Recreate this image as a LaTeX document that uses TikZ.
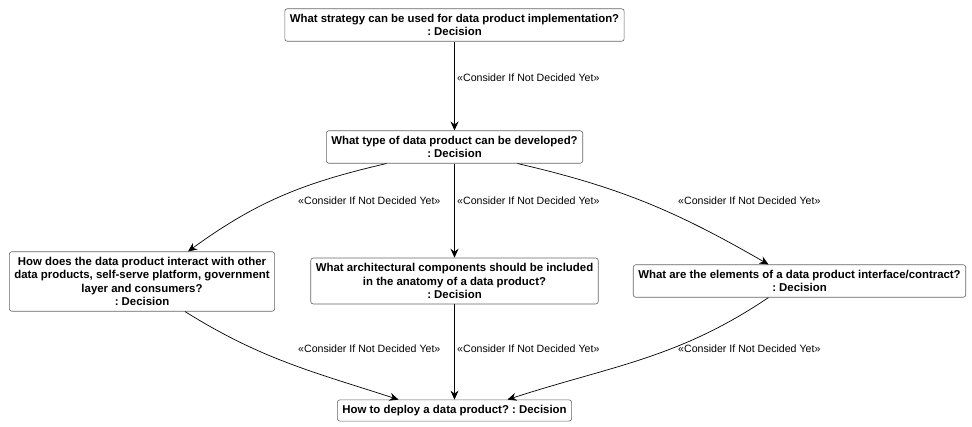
\documentclass[tikz,border=0pt]{standalone}
\usepackage{fontspec}
\setmainfont{Liberation Sans}
\usetikzlibrary{arrows.meta}
\frenchspacing
\begin{document}
\begin{tikzpicture}[x=1pt,y=-1pt,line join=round,>={Stealth[length=9pt,width=8pt,inset=3pt]},
    decision/.style={draw=black!60,rounded corners=2.5pt,fill=white,align=center,line width=0.6pt,
        inner xsep=5pt,inner ysep=5.3pt,font=\bfseries\fontsize{11.4}{13.5}\selectfont},
    stereo/.style={anchor=west,inner sep=0pt,font=\fontsize{10.6}{12}\selectfont},
    flow/.style={->,line width=0.7pt}]
    \def\mylblx{457}\def\mylblxl{298}\def\mylblxr{678}
    \useasboundingbox (0,0) rectangle (972,426);
    % decisions
    \node[decision] (nstrategy) at (454.5,25) {What strategy can be used for data product implementation?\\: Decision};
    \node[decision] (ntype) at (454.5,147) {What type of data product can be developed?\\: Decision};
    \node[decision] (ninteract) at (142,281.5) {How does the data product interact with other\\data products, self-serve platform, government\\layer and consumers?\\: Decision};
    \node[decision] (nanatomy) at (454.5,281) {What architectural components should be included\\in the anatomy of a data product?\\: Decision};
    \node[decision] (ncontract) at (799.5,281) {What are the elements of a data product interface/contract?\\: Decision};
    \node[decision] (ndeploy) at (454.5,410.5) {How to deploy a data product? : Decision};
    % stereotype labels
    \node[stereo] (lstrategy) at (\mylblx,78) {«Consider If Not Decided Yet»};
    \node[stereo] (linteract) at (\mylblxl,201) {«Consider If Not Decided Yet»};
    \node[stereo] (lanatomy) at (\mylblx,201) {«Consider If Not Decided Yet»};
    \node[stereo] (lcontract) at (\mylblxr,201) {«Consider If Not Decided Yet»};
    \node[stereo] (linteractb) at (\mylblxl,349) {«Consider If Not Decided Yet»};
    \node[stereo] (lanatomyb) at (\mylblx,349) {«Consider If Not Decided Yet»};
    \node[stereo] (lcontractb) at (\mylblxr,349) {«Consider If Not Decided Yet»};
    % flows
    \draw[flow] (nstrategy)--(ntype);
    \draw[flow] ([xshift=-68pt]ntype.south) to[out=193,in=36] ([xshift=46pt]ninteract.north);
    \draw[flow] (ntype)--(nanatomy);
    \draw[flow] ([xshift=63pt]ntype.south) to[out=-13,in=150] ([xshift=-31pt]ncontract.north);
    \draw[flow] ([xshift=43pt]ninteract.south) to[out=-32,in=162] ([xshift=-56pt]ndeploy.north);
    \draw[flow] (nanatomy)--(ndeploy);
    \draw[flow] ([xshift=-31pt]ncontract.south) to[out=214,in=18] ([xshift=53pt]ndeploy.north);
\end{tikzpicture}
\end{document}
